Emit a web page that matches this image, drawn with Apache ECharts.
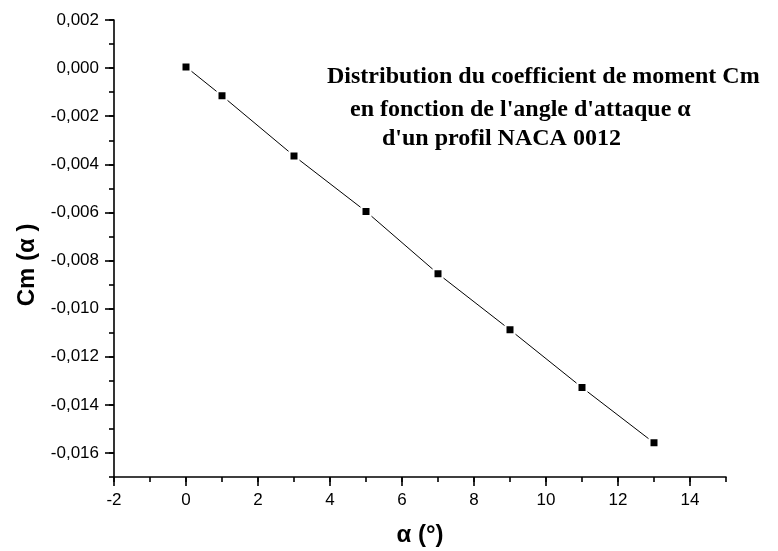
<!DOCTYPE html>
<html>
<head>
<meta charset="utf-8">
<script src="https://cdn.jsdelivr.net/npm/echarts@6/dist/echarts.min.js"></script>
<style>
  html, body { margin: 0; padding: 0; background: #fff; }
  #chart { width: 778px; height: 551px; }
</style>
</head>
<body>
<div id="chart"></div>
<script>
// Angle of attack (degrees) and moment coefficient Cm
const alphaDeg = [0, 1, 3, 5, 7, 9, 11, 13];
const cmValues = [0.00005, -0.00115, -0.00365, -0.00596, -0.00855, -0.01088, -0.01328, -0.01558];

// Labelled (major) ticks on each axis
const xTicks = [-2, 0, 2, 4, 6, 8, 10, 12, 14];
const yTicks = [0.002, 0, -0.002, -0.004, -0.006, -0.008, -0.010, -0.012, -0.014, -0.016];

const titleLines = [
  'Distribution du coefficient de moment Cm',
  "en fonction de l'angle d'attaque \u03b1",
  "d'un profil NACA 0012"
];

// Axis ranges
const X_MIN = -2, X_MAX = 15, Y_MIN = -0.017, Y_MAX = 0.002;
const X_MAJ_STEP = 2, Y_MAJ_STEP = 0.002;

const W = 778, H = 551;
const G = { left: 114, top: 20, right: 52, bottom: 74 };
const plotW = W - G.left - G.right, plotH = H - G.top - G.bottom;

// Major ticks live on a second, invisible grid whose range starts on a multiple
// of the major step and whose box is sized to share the same pixel scale.
const xMajMax = xTicks[xTicks.length - 1];
const yMajMin = yTicks[yTicks.length - 1];
const G2 = {
  left: G.left,
  top: G.top,
  right: G.right + plotW * (X_MAX - xMajMax) / (X_MAX - X_MIN),
  bottom: G.bottom + plotH * (yMajMin - Y_MIN) / (Y_MAX - Y_MIN)
};

const sans = 'Arial, "Liberation Sans", Helvetica, sans-serif';
const serif = '"Times New Roman", "Liberation Serif", serif';
const axisLineStyle = { color: '#000', width: 1.6 };

const chart = echarts.init(document.getElementById('chart'), null, { renderer: 'canvas' });

chart.setOption({
  animation: false,
  backgroundColor: '#fff',
  grid: [
    Object.assign({ containLabel: false }, G),
    Object.assign({ containLabel: false, show: false }, G2)
  ],
  xAxis: [
    {
      // main axis: line, labels and minor ticks every degree
      gridIndex: 0, type: 'value', min: X_MIN, max: X_MAX, interval: 1,
      axisLine: { show: true, onZero: false, lineStyle: axisLineStyle },
      axisTick: { show: true, inside: false, length: 5, lineStyle: axisLineStyle },
      axisLabel: { customValues: xTicks, margin: 15, color: '#000', fontFamily: sans, fontSize: 17 },
      splitLine: { show: false }
    },
    {
      // major ticks, shifted down onto the main x axis line
      gridIndex: 1, type: 'value', min: X_MIN, max: xMajMax, interval: X_MAJ_STEP,
      offset: G2.bottom - G.bottom,
      axisLine: { show: false, onZero: false },
      axisTick: { show: true, inside: false, length: 9, lineStyle: axisLineStyle },
      axisLabel: { show: false },
      splitLine: { show: false }
    }
  ],
  yAxis: [
    {
      gridIndex: 0, type: 'value', min: Y_MIN, max: Y_MAX, interval: 0.001,
      axisLine: { show: true, onZero: false, lineStyle: axisLineStyle },
      axisTick: { show: true, inside: false, length: 5, lineStyle: axisLineStyle },
      axisLabel: {
        customValues: yTicks, margin: 15, color: '#000', fontFamily: sans, fontSize: 17,
        formatter: v => (Math.abs(v) < 1e-12 ? 0 : v).toFixed(3).replace('.', ',')
      },
      splitLine: { show: false }
    },
    {
      // major ticks
      gridIndex: 1, type: 'value', min: yMajMin, max: Y_MAX, interval: Y_MAJ_STEP,
      axisLine: { show: false, onZero: false },
      axisTick: { show: true, inside: false, length: 9, lineStyle: axisLineStyle },
      axisLabel: { show: false },
      splitLine: { show: false }
    }
  ],
  series: [
    {
      type: 'line',
      xAxisIndex: 0, yAxisIndex: 0,
      data: alphaDeg.map((a, i) => [a, cmValues[i]]),
      lineStyle: { color: '#000', width: 1 },
      symbol: 'rect', symbolSize: 9,
      itemStyle: { color: '#000', borderColor: '#fff', borderWidth: 2 },
      z: 5
    }
  ],
  graphic: [
    {
      type: 'text', left: 327, top: 65,
      style: { text: titleLines[0], font: 'bold 24px ' + serif, fill: '#000' }
    },
    {
      type: 'text', left: 350, top: 98,
      style: { text: titleLines[1], font: 'bold 24px ' + serif, fill: '#000' }
    },
    {
      type: 'text', left: 382, top: 127,
      style: { text: titleLines[2], font: 'bold 24px ' + serif, fill: '#000' }
    },
    {
      type: 'text', x: 27, y: 265, rotation: Math.PI / 2,
      style: { text: 'Cm (\u03b1 )', font: 'bold 24px ' + sans, fill: '#000', align: 'center', verticalAlign: 'middle' }
    },
    {
      type: 'text', x: 420, y: 535,
      style: { text: '\u03b1 (\u00b0)', font: 'bold 24px ' + sans, fill: '#000', align: 'center', verticalAlign: 'middle' }
    }
  ]
});
</script>
</body>
</html>
